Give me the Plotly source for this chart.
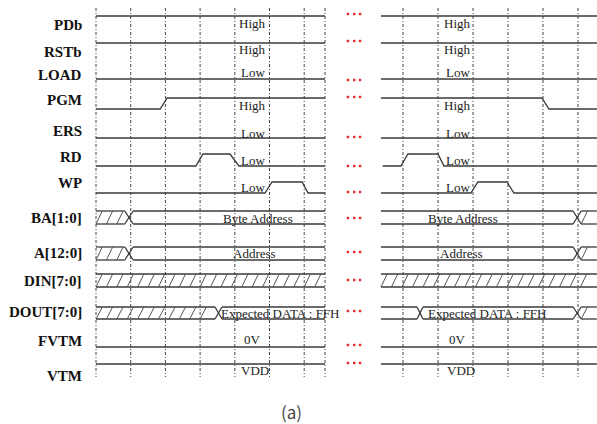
import plotly.graph_objects as go

# ---------------- data ----------------
signals = ["PDb", "RSTb", "LOAD", "PGM", "ERS", "RD", "WP",
           "BA[1:0]", "A[12:0]", "DIN[7:0]", "DOUT[7:0]", "FVTM", "VTM"]
state_text = ["High", "High", "Low", "High", "Low", "Low", "Low",
              "Byte Address", "Address", "", "Expected DATA : FFH", "0V", "VDD"]

# time extent of the two shown windows (in clock periods)
left_window = [0.0, 6.6]
right_window = [0.37, 6.54]
left_grid = [0, 1, 2, 3, 4, 5, 6, 6.6]
right_grid = [1, 2, 3, 4, 5, 6]

# level signals: breakpoint times and levels (1 = high, 0 = low)
pdb_left_t, pdb_left_v = [0, 6.6], [1, 1]
pdb_right_t, pdb_right_v = [0.37, 6.54], [1, 1]
rstb_left_t, rstb_left_v = [0, 6.6], [1, 1]
rstb_right_t, rstb_right_v = [0.37, 6.54], [1, 1]
load_left_t, load_left_v = [0, 6.6], [0, 0]
load_right_t, load_right_v = [0.37, 6.54], [0, 0]
pgm_left_t, pgm_left_v = [0, 1.85, 2.05, 6.6], [0, 0, 1, 1]
pgm_right_t, pgm_right_v = [0.37, 4.97, 5.17, 6.54], [1, 1, 0, 0]
ers_left_t, ers_left_v = [0, 6.6], [0, 0]
ers_right_t, ers_right_v = [0.37, 6.54], [0, 0]
rd_left_t, rd_left_v = [0, 2.88, 3.08, 3.86, 4.12, 6.6], [0, 0, 1, 1, 0, 0]
rd_right_t, rd_right_v = [0.42, 0.94, 1.14, 2.0, 2.17, 6.54], [0, 0, 1, 1, 0, 0]
wp_left_t, wp_left_v = [0, 4.87, 5.07, 5.94, 6.11, 6.6], [0, 0, 1, 1, 0, 0]
wp_right_t, wp_right_v = [0.37, 2.94, 3.14, 3.97, 4.17, 6.54], [0, 0, 1, 1, 0, 0]
fvtm_left_t, fvtm_left_v = [0, 6.6], [0, 0]
fvtm_right_t, fvtm_right_v = [0.37, 6.54], [0, 0]
vtm_left_t, vtm_left_v = [0, 6.6], [1, 1]
vtm_right_t, vtm_right_v = [0.37, 6.54], [1, 1]

# bus signals: states ("x" = don't care, "v" = valid) and crossing windows
ba_left_states, ba_left_cross = ["x", "v"], [(0.83, 1.07)]
ba_right_states, ba_right_cross = ["v", "x"], [(5.86, 6.09)]
a_left_states, a_left_cross = ["x", "v"], [(0.83, 1.07)]
a_right_states, a_right_cross = ["v", "x"], [(5.86, 6.09)]
din_left_states, din_left_cross = ["x"], []
din_right_states, din_right_cross = ["x"], []
dout_left_states, dout_left_cross = ["x", "v"], [(3.43, 3.63)]
dout_right_states, dout_right_cross = ["v", "v", "x"], [(1.40, 1.57), (5.86, 6.09)]

# ---------------- layout constants (pixel rows) ----------------
LEVEL_ROWS = {  # y of high level, y of low level
    "PDb": (16, 27), "RSTb": (43, 54), "LOAD": (68, 79), "PGM": (98, 109),
    "ERS": (127, 138), "RD": (154, 166), "WP": (182, 193),
    "FVTM": (336, 347), "VTM": (364, 375)}
BUS_ROWS = {"BA[1:0]": (211, 224), "A[12:0]": (247, 260),
            "DIN[7:0]": (274, 287), "DOUT[7:0]": (307, 319)}
LABEL_Y = {"PDb": 25, "RSTb": 52, "LOAD": 75, "PGM": 100, "ERS": 131, "RD": 157,
           "WP": 183, "BA[1:0]": 218, "A[12:0]": 253, "DIN[7:0]": 281,
           "DOUT[7:0]": 312, "FVTM": 341, "VTM": 376}
TEXT_Y = {"PDb": 23, "RSTb": 49, "LOAD": 72, "PGM": 105, "ERS": 133, "RD": 160,
          "WP": 187, "BA[1:0]": 218, "A[12:0]": 253, "DOUT[7:0]": 313,
          "FVTM": 339, "VTM": 370}
TEXT_X_LEFT = {"BA[1:0]": 4.67, "A[12:0]": 4.58, "DOUT[7:0]": 5.3, "VTM": 4.58}
TEXT_X_RIGHT = {"BA[1:0]": 2.71, "A[12:0]": 2.66, "DOUT[7:0]": 3.4, "VTM": 2.66}
DOT_Y = {"PDb": 14, "RSTb": 41, "LOAD": 80, "PGM": 97, "ERS": 137, "RD": 166,
         "WP": 192, "BA[1:0]": 218, "A[12:0]": 252, "DIN[7:0]": 280,
         "DOUT[7:0]": 311, "FVTM": 345, "VTM": 363}
GAP_T = [7.26, 7.44, 7.61]
GRID_Y = (8, 377)

LINE = "#3a3a3a"
SERIF = "Liberation Serif"

level_data = {
    "PDb": ((pdb_left_t, pdb_left_v), (pdb_right_t, pdb_right_v)),
    "RSTb": ((rstb_left_t, rstb_left_v), (rstb_right_t, rstb_right_v)),
    "LOAD": ((load_left_t, load_left_v), (load_right_t, load_right_v)),
    "PGM": ((pgm_left_t, pgm_left_v), (pgm_right_t, pgm_right_v)),
    "ERS": ((ers_left_t, ers_left_v), (ers_right_t, ers_right_v)),
    "RD": ((rd_left_t, rd_left_v), (rd_right_t, rd_right_v)),
    "WP": ((wp_left_t, wp_left_v), (wp_right_t, wp_right_v)),
    "FVTM": ((fvtm_left_t, fvtm_left_v), (fvtm_right_t, fvtm_right_v)),
    "VTM": ((vtm_left_t, vtm_left_v), (vtm_right_t, vtm_right_v)),
}
bus_data = {
    "BA[1:0]": ((ba_left_states, ba_left_cross), (ba_right_states, ba_right_cross)),
    "A[12:0]": ((a_left_states, a_left_cross), (a_right_states, a_right_cross)),
    "DIN[7:0]": ((din_left_states, din_left_cross), (din_right_states, din_right_cross)),
    "DOUT[7:0]": ((dout_left_states, dout_left_cross), (dout_right_states, dout_right_cross)),
}

fig = go.Figure()
axes = ["x", "x2"]
windows = [left_window, right_window]

# grid lines
for xa, grid in zip(axes, [left_grid, right_grid]):
    gx, gy = [], []
    for g in grid:
        gx += [g, g, None]
        gy += [GRID_Y[0], GRID_Y[1], None]
    fig.add_trace(go.Scatter(x=gx, y=gy, mode="lines", xaxis=xa, yaxis="y",
                             line=dict(color="#444", width=1, dash="3px,2px,1px,2px"),
                             hoverinfo="skip", showlegend=False))

# level waveforms
for name, blocks in level_data.items():
    hi, lo = LEVEL_ROWS[name]
    for xa, (ts, vs) in zip(axes, blocks):
        fig.add_trace(go.Scatter(x=ts, y=[hi if v else lo for v in vs], mode="lines",
                                 xaxis=xa, yaxis="y", line=dict(color=LINE, width=1.3),
                                 hoverinfo="skip", showlegend=False))

# bus waveforms
HATCH_STEP, HATCH_SLANT = 0.30, 0.18
for name, blocks in bus_data.items():
    top, bot = BUS_ROWS[name]
    for xa, win, (states, cross) in zip(axes, windows, blocks):
        starts = [win[0]] + [c[1] for c in cross]
        ends = [c[0] for c in cross] + [win[1]]
        ox, oy, hx, hy = [], [], [], []
        for s, e, st in zip(starts, ends, states):
            ox += [s, e, None, s, e, None]
            oy += [top, top, None, bot, bot, None]
            if st == "x":
                t = s
                while t + HATCH_SLANT <= e + 1e-9:
                    hx += [t, t + HATCH_SLANT, None]
                    hy += [bot, top, None]
                    t += HATCH_STEP
        for c0, c1 in cross:
            ox += [c0, c1, None, c0, c1, None]
            oy += [top, bot, None, bot, top, None]
        fig.add_trace(go.Scatter(x=ox, y=oy, mode="lines", xaxis=xa, yaxis="y",
                                 line=dict(color=LINE, width=1.3),
                                 hoverinfo="skip", showlegend=False))
        if hx:
            fig.add_trace(go.Scatter(x=hx, y=hy, mode="lines", xaxis=xa, yaxis="y",
                                     line=dict(color="#555", width=1),
                                     hoverinfo="skip", showlegend=False))

# continuation dots
for name in signals:
    fig.add_trace(go.Scatter(x=GAP_T, y=[DOT_Y[name]] * 3, mode="markers",
                             xaxis="x", yaxis="y",
                             marker=dict(color="#e8262a", size=2.4, symbol="square"),
                             hoverinfo="skip", showlegend=False))

annotations = []
for name, txt in zip(signals, state_text):
    annotations.append(dict(x=-0.35, y=LABEL_Y[name], xref="x", yref="y",
                            text="<b>" + name + "</b>",
                            showarrow=False, xanchor="right", yanchor="middle",
                            font=dict(family=SERIF, size=15, color="#111")))
    if txt:
        for xa, tx in zip(axes, [TEXT_X_LEFT.get(name, 4.52), TEXT_X_RIGHT.get(name, 2.57)]):
            annotations.append(dict(x=tx, y=TEXT_Y[name], xref=xa, yref="y", text=txt,
                                    showarrow=False, xanchor="center", yanchor="middle",
                                    font=dict(family=SERIF, size=13, color="#222")))

annotations.append(dict(x=291 / 597, y=411, xref="paper", yref="y", text="(a)",
                        showarrow=False, xanchor="center", yanchor="middle",
                        font=dict(family="Noto Sans CJK KR", size=17, color="#444")))

fig.update_layout(
    width=597, height=424, margin=dict(l=0, r=0, t=0, b=0),
    paper_bgcolor="white", plot_bgcolor="white",
    xaxis=dict(domain=[0, 1], range=[-96 / 34.7, (597 - 96) / 34.7], visible=False),
    xaxis2=dict(domain=[0, 1], range=[-368 / 35.0, (597 - 368) / 35.0], visible=False,
                overlaying="x", anchor="y"),
    yaxis=dict(domain=[0, 1], range=[424, 0], visible=False),
    annotations=annotations,
)

fig.write_html("out.html", config={"displayModeBar": False},
               post_script="document.body.style.margin='0';document.body.style.overflow='hidden';")
